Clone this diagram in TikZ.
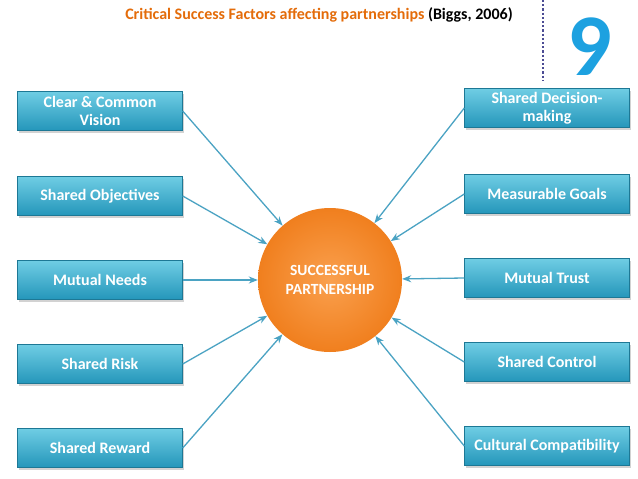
\documentclass[tikz,border=0pt]{standalone}
\usepackage{fontspec}
\setmainfont{Carlito}
\usetikzlibrary{arrows.meta,shadows}
\definecolor{boxtop}{HTML}{6FCDE4}
\definecolor{boxbot}{HTML}{2496BA}
\definecolor{arr}{HTML}{4BA3C3}
\definecolor{ttl}{HTML}{E46C0A}
\definecolor{nine}{HTML}{1DA1E0}
\definecolor{orin}{HTML}{FAA04E}
\definecolor{orout}{HTML}{F07F1E}
\tikzset{
  factor/.style={rectangle, minimum width=165pt, minimum height=39pt, align=center,
    top color=boxtop, bottom color=boxbot, draw=boxbot!80!black, line width=0.4pt,
    font=\bfseries\fontsize{16}{18}\selectfont, text=white,
    drop shadow={shadow xshift=1.5pt, shadow yshift=-2pt, opacity=0.35}},
  conn/.style={draw=arr, line width=1.3pt, -{Stealth[length=9pt,width=7pt]}},
}
\begin{document}
\begin{tikzpicture}[x=1pt,y=-1pt]
\useasboundingbox (0,0) rectangle (638,479);
\fill[white] (0,0) rectangle (638,479);
\node[font=\bfseries\fontsize{16}{17}\selectfont] (title) at (319,15) {\textcolor{ttl}{Critical Success Factors affecting partnerships} (Biggs, 2006)};
\coordinate (dtop) at (543,0);
\coordinate (dbot) at (543,80);
\draw[dotted, line width=2.2pt, color=black!30!blue!40!gray] (dtop) -- (dbot);
\node[font=\bfseries\fontsize{88}{88}\selectfont, text=nine, inner sep=0pt] (nine) at (590,47) {9};
\node[circle, minimum size=144pt, inner color=orin, outer color=orout, draw=none,
  align=center, font=\bfseries\fontsize{15.5}{19}\selectfont, text=white] (c) at (330,280) {SUCCESSFUL\\PARTNERSHIP};
\node[factor] (l1) at (100,111) {Clear \& Common\\Vision};
\node[factor] (l2) at (100,196) {Shared Objectives};
\node[factor] (l3) at (100,280) {Mutual Needs};
\node[factor] (l4) at (100,364) {Shared Risk};
\node[factor] (l5) at (100,448) {Shared Reward};
\node[factor] (r1) at (547,108) {Shared Decision-\\making};
\node[factor] (r2) at (547,194) {Measurable Goals};
\node[factor] (r3) at (547,278) {Mutual Trust};
\node[factor] (r4) at (547,362) {Shared Control};
\node[factor] (r5) at (547,446) {Cultural Compatibility};
\foreach \n in {l1,l2,l3,l4,l5} \draw[conn] (\n.east) -- (c);
\foreach \n in {r1,r2,r3,r4,r5} \draw[conn] (\n.west) -- (c);
\end{tikzpicture}
\end{document}
